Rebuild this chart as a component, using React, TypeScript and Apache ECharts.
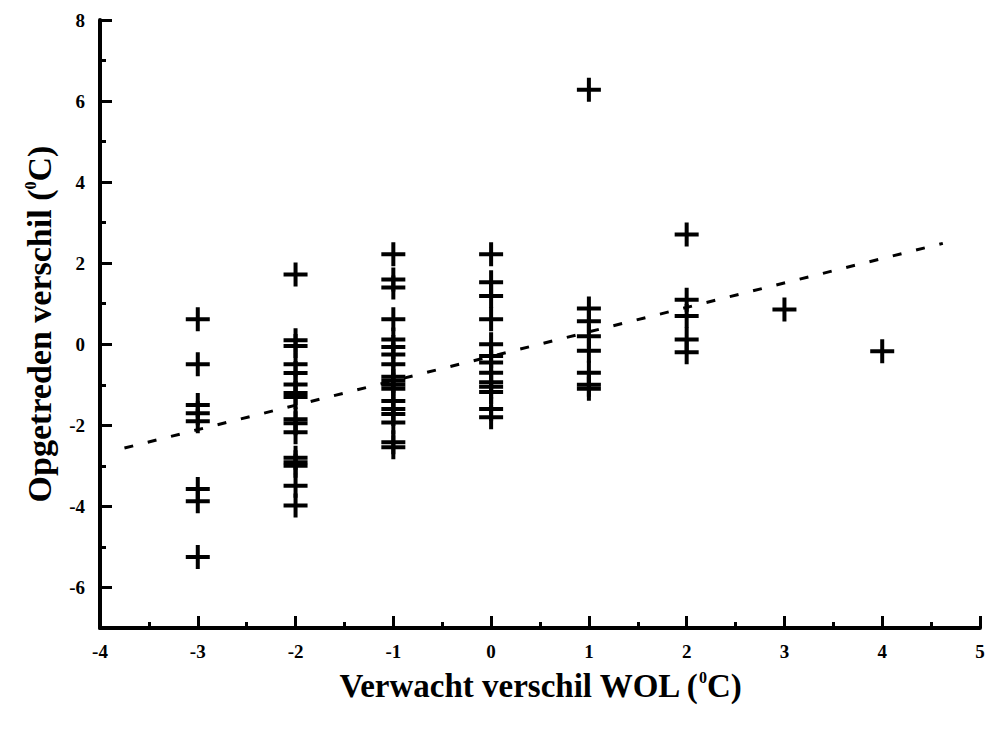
import React, { useEffect, useRef } from "react";
import * as echarts from "echarts";

const groupX = [-3, -2, -1, 0, 1, 2, 3, 4];
const yAtMinus3 = [0.62, -0.49, -1.5, -1.7, -1.9, -3.57, -3.87, -5.25];
const yAtMinus2 = [1.72, 0.1, -0.04, -0.49, -0.71, -0.99, -1.2, -1.3, -1.85, -1.95, -2.17, -2.8, -2.91, -3.0, -3.49, -3.98];
const yAtMinus1 = [2.22, 1.6, 1.4, 0.62, 0.12, -0.07, -0.25, -0.49, -0.8, -0.9, -1.0, -1.1, -1.4, -1.6, -1.72, -1.93, -2.42, -2.54];
const yAt0 = [2.22, 1.53, 1.19, 0.62, 0.0, -0.29, -0.45, -0.7, -0.94, -1.05, -1.18, -1.6, -1.8];
const yAt1 = [6.28, 0.88, 0.57, 0.2, -0.16, -0.7, -1.0, -1.1];
const yAt2 = [2.71, 1.1, 0.7, 0.12, -0.2];
const yAt3 = [0.86];
const yAt4 = [-0.17];
const groupY = [yAtMinus3, yAtMinus2, yAtMinus1, yAt0, yAt1, yAt2, yAt3, yAt4];

const trendX = [-3.75, 4.62];
const trendY = [-2.56, 2.49];

const yMajorTicks = [-6, -4, -2, 0, 2, 4, 6, 8];
const yMinorTicks = [-5, -3, -1, 1, 3, 5, 7];

const PLUS = "path://M10,0H14V10H24V14H14V24H10V14H0V10H10Z";
const FONT = "'Liberation Serif', 'Times New Roman', serif";

export default function App() {
  const ref = useRef<HTMLDivElement>(null);
  useEffect(() => {
    const chart = echarts.init(ref.current!, undefined, { renderer: "svg" });
    const points: number[][] = [];
    groupX.forEach((x, i) => groupY[i].forEach((y) => points.push([x, y])));
    const supStyle = { fontFamily: FONT, fontWeight: "bold", fontSize: 16, color: "#000", verticalAlign: "top", padding: [0, 0, 15, 0] };
    chart.setOption({
      animation: false,
      backgroundColor: "#ffffff",
      grid: { left: 100, right: 10, top: 20, bottom: 102, containLabel: false },
      xAxis: {
        type: "value",
        min: -4,
        max: 5,
        interval: 1,
        name: "Verwacht verschil WOL ({sup|0}C)",
        nameLocation: "middle",
        nameGap: 41,
        nameTextStyle: { fontFamily: FONT, fontWeight: "bold", fontSize: 33, color: "#000", rich: { sup: supStyle } },
        axisLine: { show: true, onZero: false, lineStyle: { color: "#000", width: 4 } },
        axisTick: { show: true, inside: true, length: 12, lineStyle: { color: "#000", width: 3 } },
        minorTick: { show: true, splitNumber: 2, length: 6, lineStyle: { color: "#000", width: 3 } },
        axisLabel: { fontFamily: FONT, fontWeight: "bold", fontSize: 19, color: "#000", margin: 14 },
        splitLine: { show: false },
      },
      yAxis: [
        {
          type: "value",
          min: -7,
          max: 8,
          position: "left",
          name: "Opgetreden verschil ({sup|0}C)",
          nameLocation: "middle",
          nameGap: 44,
          nameRotate: 90,
          nameTextStyle: { fontFamily: FONT, fontWeight: "bold", fontSize: 34, color: "#000", rich: { sup: supStyle } },
          axisLine: { show: true, onZero: false, lineStyle: { color: "#000", width: 4 } },
          axisTick: { show: true, inside: true, length: 12, customValues: yMajorTicks, lineStyle: { color: "#000", width: 3 } },
          axisLabel: { customValues: yMajorTicks, fontFamily: FONT, fontWeight: "bold", fontSize: 19, color: "#000", margin: 15 },
          splitLine: { show: false },
        },
        {
          type: "value",
          min: -7,
          max: 8,
          position: "left",
          offset: 0,
          axisLine: { show: false, onZero: false },
          axisTick: { show: true, inside: true, length: 6, customValues: yMinorTicks, lineStyle: { color: "#000", width: 3 } },
          axisLabel: { show: false },
          splitLine: { show: false },
        },
      ],
      series: [
        {
          type: "scatter",
          data: points,
          symbol: PLUS,
          symbolSize: 24,
          itemStyle: { color: "#000", opacity: 1 },
          yAxisIndex: 0,
        },
        {
          type: "line",
          data: trendX.map((x, i) => [x, trendY[i]]),
          showSymbol: false,
          symbol: "none",
          lineStyle: { color: "#000", width: 3, type: [9, 15] },
          yAxisIndex: 0,
        },
      ],
    });
    return () => chart.dispose();
  }, []);
  return <div ref={ref} style={{ position: "absolute", left: 0, top: 0, width: 990, height: 730 }} />;
}
